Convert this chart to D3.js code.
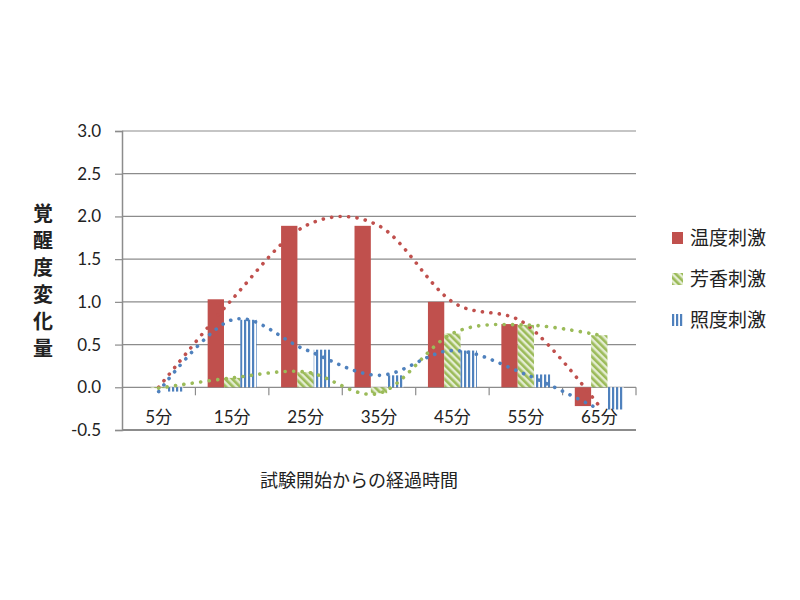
<!DOCTYPE html>
<html>
<head>
<meta charset="utf-8">
<script src="https://cdn.jsdelivr.net/npm/d3@7"></script>
<style>
  body { margin: 0; background: #fff; }
  svg { display: block; }
  text { font-family: "Noto Sans CJK JP", sans-serif; fill: #222; }
  .num { font-family: Lato, "Noto Sans CJK JP", sans-serif; }
</style>
</head>
<body>
<svg id="chart" width="800" height="600"></svg>
<script>
// categories and values
var categories = ["5分", "15分", "25分", "35分", "45分", "55分", "65分"];
var seriesNames = ["温度刺激", "芳香刺激", "照度刺激"];
var tempValues = [0.0, 1.03, 1.89, 1.89, 1.0, 0.74, -0.22];
var aromaValues = [-0.01, 0.11, 0.18, -0.07, 0.63, 0.73, 0.61];
var lightValues = [-0.05, 0.79, 0.44, 0.14, 0.43, 0.15, -0.26];
var yTicks = [-0.5, 0.0, 0.5, 1.0, 1.5, 2.0, 2.5, 3.0];
var yTitle = "覚醒度変化量";
var xTitle = "試験開始からの経過時間";

var seriesValues = [tempValues, aromaValues, lightValues];

function drawChart() {
    var svg = d3.select("#chart");
    svg.selectAll("*").remove();

    var left = 122, right = 636, top = 131, bottom = 430;

    // pattern fills for the 2nd and 3rd series
    var defs = svg.append("defs");
    var pg = defs.append("pattern")
        .attr("id", "greenStripe")
        .attr("patternUnits", "userSpaceOnUse")
        .attr("width", 5).attr("height", 5)
        .attr("patternTransform", "rotate(-45)");
    pg.append("rect").attr("width", 5).attr("height", 5).attr("fill", "#e4edd2");
    pg.append("rect").attr("width", 2.6).attr("height", 5).attr("fill", "#9bbb59");

    var pb = defs.append("pattern")
        .attr("id", "blueStripe")
        .attr("patternUnits", "userSpaceOnUse")
        .attr("width", 4).attr("height", 4);
    pb.append("rect").attr("width", 4).attr("height", 4).attr("fill", "#ffffff");
    pb.append("rect").attr("width", 2.2).attr("height", 4).attr("fill", "#4f81bd");

    var fills = ["#c0504d", "url(#greenStripe)", "url(#blueStripe)"];
    var lineColors = ["#c0504d", "#9bbb59", "#4f81bd"];

    // scales
    var x0 = d3.scaleBand().domain(categories).range([left, right])
        .paddingInner(0.333).paddingOuter(0.1665);
    var x1 = d3.scaleBand().domain(d3.range(3)).range([0, x0.bandwidth()]);
    var y = d3.scaleLinear().domain([-0.5, 3.0]).range([bottom, top]);

    // grid lines
    svg.append("g")
        .selectAll("line")
        .data(yTicks)
        .enter().append("line")
        .attr("x1", left).attr("x2", right)
        .attr("y1", d => y(d)).attr("y2", d => y(d))
        .attr("stroke", "#8c8c8c")
        .attr("stroke-width", d => (d === -0.5 ? 2 : 1.2));

    // y axis
    var yAxis = d3.axisLeft(y).tickValues(yTicks).tickFormat(d => d.toFixed(1)).tickSize(7).tickPadding(14);
    var gy = svg.append("g")
        .attr("transform", "translate(" + left + ",0)")
        .call(yAxis);
    gy.select(".domain").attr("stroke", "#8c8c8c").attr("stroke-width", 1.5);
    gy.selectAll(".tick line").attr("stroke", "#8c8c8c").attr("stroke-width", 1.2);
    gy.selectAll(".tick text")
        .attr("class", "num")
        .style("font-size", "17px")
        .attr("fill", "#222");

    // category tick marks on the zero line
    var boundaries = categories.map(c => x0(c) - x0.step() * x0.paddingInner() / 2).slice(1).concat([right]);
    svg.append("g")
        .selectAll("line")
        .data(boundaries)
        .enter().append("line")
        .attr("x1", d => d).attr("x2", d => d)
        .attr("y1", y(0)).attr("y2", y(0) + 8)
        .attr("stroke", "#8c8c8c")
        .attr("stroke-width", 1.2);

    // bars
    seriesValues.forEach(function(vals, s) {
        svg.append("g")
            .selectAll("rect")
            .data(vals)
            .enter().append("rect")
            .attr("x", (d, i) => x0(categories[i]) + x1(s))
            .attr("width", x1.bandwidth())
            .attr("y", d => y(Math.max(0, d)))
            .attr("height", d => Math.abs(y(d) - y(0)))
            .attr("fill", fills[s]);
    });

    // smoothed dotted lines through the same values
    var line = d3.line()
        .x((d, i) => x0(categories[i]) + x0.bandwidth() / 2)
        .y(d => y(d))
        .curve(d3.curveCardinal.tension(0));

    seriesValues.forEach(function(vals, s) {
        svg.append("path")
            .datum(vals)
            .attr("d", line)
            .attr("fill", "none")
            .attr("stroke", lineColors[s])
            .attr("stroke-width", 3.6)
            .attr("stroke-linecap", "round")
            .attr("stroke-dasharray", "0.1 8.4");
    });

    // category labels
    svg.append("g")
        .selectAll("text")
        .data(categories)
        .enter().append("text")
        .attr("class", "num")
        .attr("x", d => x0(d) + x0.bandwidth() / 2)
        .attr("y", y(0) + 36)
        .attr("text-anchor", "middle")
        .style("font-size", "17px")
        .text(d => d);

    // y title, stacked vertically
    svg.append("g")
        .selectAll("text")
        .data(yTitle.split(""))
        .enter().append("text")
        .attr("x", 43)
        .attr("y", (d, i) => 221 + i * 27)
        .attr("text-anchor", "middle")
        .style("font-size", "20px")
        .style("font-weight", "bold")
        .text(d => d);

    // x title
    svg.append("text")
        .attr("x", 359)
        .attr("y", 487)
        .attr("text-anchor", "middle")
        .style("font-size", "18px")
        .text(xTitle);

    // legend
    var legend = svg.selectAll(".legend")
        .data(seriesNames)
        .enter().append("g")
        .attr("class", "legend")
        .attr("transform", (d, i) => "translate(672," + (238 + i * 41) + ")");
    legend.append("rect")
        .attr("x", 0).attr("y", -6)
        .attr("width", 11).attr("height", 12)
        .attr("fill", (d, i) => fills[i]);
    legend.append("text")
        .attr("x", 18)
        .attr("y", 0)
        .attr("dy", "0.36em")
        .style("font-size", "19px")
        .text(d => d);
}

drawChart();
</script>
</body>
</html>
